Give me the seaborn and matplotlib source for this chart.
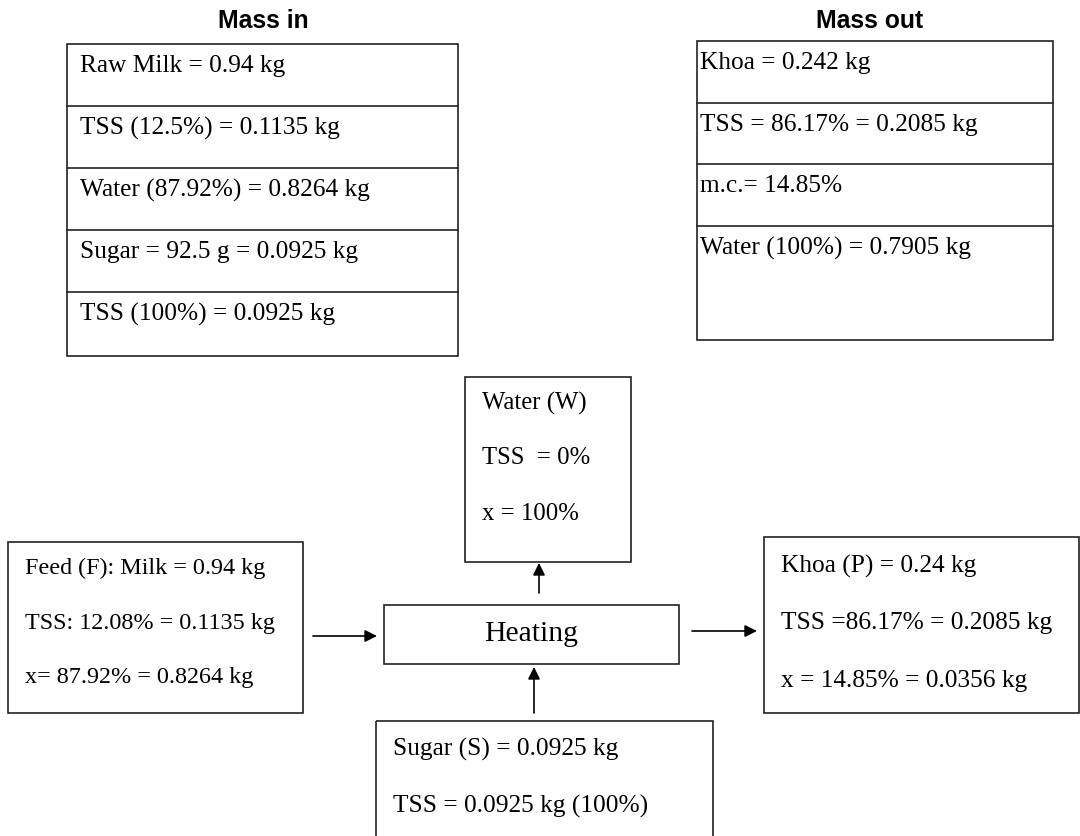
import matplotlib.pyplot as plt
import seaborn as sns
from matplotlib.patches import Rectangle

sns.set_theme(style="white")
plt.rcParams['font.family'] = ['Liberation Serif', 'DejaVu Serif']

# table contents
mass_in_title = "Mass in"
mass_in_rows = [
    "Raw Milk = 0.94 kg",
    "TSS (12.5%) = 0.1135 kg",
    "Water (87.92%) = 0.8264 kg",
    "Sugar = 92.5 g = 0.0925 kg",
    "TSS (100%) = 0.0925 kg",
]
mass_out_title = "Mass out"
mass_out_rows = [
    "Khoa = 0.242 kg",
    "TSS = 86.17% = 0.2085 kg",
    "m.c.= 14.85%",
    "Water (100%) = 0.7905 kg",
]

# flow diagram boxes
water_lines = ["Water (W)", "TSS  = 0%", "x = 100%"]
feed_lines = ["Feed (F): Milk = 0.94 kg", "TSS: 12.08% = 0.1135 kg", "x= 87.92% = 0.8264 kg"]
product_lines = ["Khoa (P) = 0.24 kg", "TSS =86.17% = 0.2085 kg", "x = 14.85% = 0.0356 kg"]
sugar_lines = ["Sugar (S) = 0.0925 kg", "TSS = 0.0925 kg (100%)"]
process_label = "Heating"

fig = plt.figure(figsize=(10.8, 8.36), dpi=100)
ax = fig.add_axes([0, 0, 1, 1])
ax.set_xlim(0, 1080)
ax.set_ylim(836, 0)
ax.axis('off')

LW = 1.2
EC = "#222222"
FS = 18.3


def box(x0, y0, x1, y1):
    ax.add_patch(Rectangle((x0, y0), x1 - x0, y1 - y0, fill=False, ec=EC, lw=LW))


def table(x0, x1, edges, rows, tx, title, title_x):
    box(x0, edges[0], x1, edges[-1])
    for e in edges[1:-1]:
        ax.plot([x0, x1], [e, e], color=EC, lw=LW)
    for top, txt in zip(edges[:-1], rows):
        ax.text(tx, top + 22, txt, fontsize=FS, va='center', ha='left', color='black')
    ax.text(title_x, 21, title, fontsize=17.8, fontweight='bold', ha='center', va='center',
            color='black', family=['Liberation Sans', 'DejaVu Sans'])


table(67, 458, [44, 106, 168, 230, 292, 356], mass_in_rows, 80, mass_in_title, 263)
table(697, 1053, [41, 103, 164, 226, 340], mass_out_rows, 700, mass_out_title, 870)


def text_box(x0, y0, x1, y1, lines, tx, ty, dy, fs=FS):
    box(x0, y0, x1, y1)
    for i, txt in enumerate(lines):
        ax.text(tx, ty + i * dy, txt, fontsize=fs, va='center', ha='left', color='black')


text_box(465, 377, 631, 562, water_lines, 482, 403, 55.5, fs=17.8)
text_box(8, 542, 303, 713, feed_lines, 25, 568, 55, fs=17.4)
text_box(764, 537, 1079, 713, product_lines, 781, 566, 57.5)
text_box(376, 721, 713, 850, sugar_lines, 393, 749, 57)

box(384, 605, 679, 664)
ax.text(531, 634, process_label, fontsize=21.4, ha='center', va='center', color='black')


def arrow(x0, y0, x1, y1):
    ax.annotate("", xy=(x1, y1), xytext=(x0, y0),
                arrowprops=dict(arrowstyle='-|>', color='black', lw=1.2,
                                mutation_scale=18, shrinkA=0, shrinkB=0))


arrow(313, 636, 377, 636)
arrow(692, 631, 757, 631)
arrow(539, 593, 539, 563)
arrow(534, 713, 534, 667)

fig.savefig("out.png", dpi=100, facecolor='white')
